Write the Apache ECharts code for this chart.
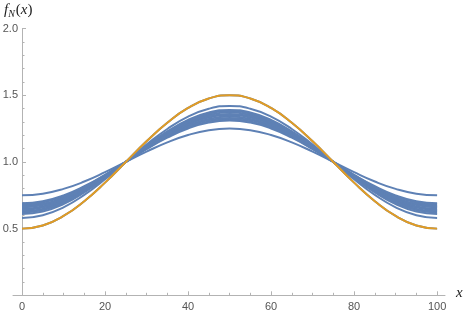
<!DOCTYPE html>
<html><head><meta charset="utf-8">
<script src="https://cdn.jsdelivr.net/npm/echarts@6/dist/echarts.min.js"></script>
<style>html,body{margin:0;padding:0;background:#fff}#c{width:469px;height:318px}</style>
</head><body><div id="c"></div>
<script>
const xValues = [0,5,10,15,20,25,30,35,40,45,50,55,60,65,70,75,80,85,90,95,100];
const curve025 = [0.75,0.762,0.798,0.853,0.923,1,1.077,1.147,1.202,1.238,1.25,1.238,1.202,1.147,1.077,1,0.923,0.853,0.798,0.762,0.75];
const curve031 = [0.69,0.705,0.749,0.818,0.904,1,1.096,1.182,1.251,1.295,1.31,1.295,1.251,1.182,1.096,1,0.904,0.818,0.749,0.705,0.69];
const curve032 = [0.68,0.696,0.741,0.812,0.901,1,1.099,1.188,1.259,1.304,1.32,1.304,1.259,1.188,1.099,1,0.901,0.812,0.741,0.696,0.68];
const curve033 = [0.67,0.686,0.733,0.806,0.898,1,1.102,1.194,1.267,1.314,1.33,1.314,1.267,1.194,1.102,1,0.898,0.806,0.733,0.686,0.67];
const curve034 = [0.66,0.677,0.725,0.8,0.895,1,1.105,1.2,1.275,1.323,1.34,1.323,1.275,1.2,1.105,1,0.895,0.8,0.725,0.677,0.66];
const curve035 = [0.65,0.667,0.717,0.794,0.892,1,1.108,1.206,1.283,1.333,1.35,1.333,1.283,1.206,1.108,1,0.892,0.794,0.717,0.667,0.65];
const curve036 = [0.64,0.658,0.709,0.788,0.889,1,1.111,1.212,1.291,1.342,1.36,1.342,1.291,1.212,1.111,1,0.889,0.788,0.709,0.658,0.64];
const curve037 = [0.63,0.648,0.701,0.782,0.886,1,1.114,1.218,1.299,1.352,1.37,1.352,1.299,1.218,1.114,1,0.886,0.782,0.701,0.648,0.63];
const curve038 = [0.62,0.639,0.693,0.777,0.883,1,1.117,1.223,1.307,1.361,1.38,1.361,1.307,1.223,1.117,1,0.883,0.777,0.693,0.639,0.62];
const curve039 = [0.61,0.629,0.684,0.771,0.879,1,1.121,1.229,1.316,1.371,1.39,1.371,1.316,1.229,1.121,1,0.879,0.771,0.684,0.629,0.61];
const curve042 = [0.58,0.601,0.66,0.753,0.87,1,1.13,1.247,1.34,1.399,1.42,1.399,1.34,1.247,1.13,1,0.87,0.753,0.66,0.601,0.58];
const curveLimit = [0.5,0.524,0.595,0.706,0.845,1,1.155,1.294,1.405,1.476,1.5,1.476,1.405,1.294,1.155,1,0.845,0.706,0.595,0.524,0.5];
const blueCurves = [curve025, curve031, curve032, curve033, curve034, curve035, curve036, curve037, curve038, curve039, curve042, curveLimit];
const xMajorTicks = [0,20,40,60,80,100];
const xMinorTicks = [5,10,15,25,30,35,45,50,55,65,70,75,85,90,95];

const BLUE = '#5E81B5', ORANGE = '#E19C24', AXIS = '#b3b3b3', LABEL = '#555';
const pairs = arr => xValues.map((x, i) => [x, arr[i]]);

const series = blueCurves.map(c => ({
  type: 'line', xAxisIndex: 0, data: pairs(c), smooth: true, showSymbol: false,
  lineStyle: { color: BLUE, width: 2 }, z: 2
}));
series.push({
  type: 'line', xAxisIndex: 0, data: pairs(curveLimit), smooth: true, showSymbol: false,
  lineStyle: { color: ORANGE, width: 2 }, z: 3
});

const chart = echarts.init(document.getElementById('c'), null, { renderer: 'canvas' });
chart.setOption({
  animation: false,
  grid: { left: 13, right: 24, top: 28.6, bottom: 22.7, containLabel: false, outerBoundsMode: 'none' },
  xAxis: [{
    type: 'value', min: -2.17, max: 101.9,
    axisLine: { lineStyle: { color: AXIS, width: 1 } },
    axisTick: { show: true, inside: true, length: 4, lineStyle: { color: AXIS }, customValues: xMajorTicks },
    axisLabel: { customValues: xMajorTicks, color: LABEL, fontSize: 11, fontFamily: 'Liberation Sans', margin: 6 },
    splitLine: { show: false }
  }, {
    type: 'value', min: -2.17, max: 101.9, position: 'bottom',
    axisLine: { show: false },
    axisTick: { show: true, inside: true, length: 2.5, lineStyle: { color: AXIS }, customValues: xMinorTicks },
    axisLabel: { show: false },
    splitLine: { show: false }
  }],
  yAxis: {
    type: 'value', min: 0, max: 2, interval: 0.5,
    axisLine: { show: true, onZero: true, lineStyle: { color: AXIS, width: 1 } },
    axisTick: { show: true, inside: true, length: 4, lineStyle: { color: AXIS } },
    minorTick: { show: true, splitNumber: 5, length: 2.5, lineStyle: { color: AXIS } },
    axisLabel: { color: LABEL, fontSize: 11, fontFamily: 'Liberation Sans', margin: -5,
      formatter: v => v === 0 ? '' : v.toFixed(1) },
    splitLine: { show: false }
  },
  series: series,
  graphic: [{
    type: 'text', left: 4, top: 3,
    style: {
      text: '{f|f}{n|N}{p|(}{x|x}{p|)}',
      rich: {
        f: { fontFamily: 'Liberation Serif', fontStyle: 'italic', fontSize: 15, fill: '#222' },
        n: { fontFamily: 'Liberation Serif', fontStyle: 'italic', fontSize: 10, fill: '#222', padding: [8, 1, 0, 0] },
        p: { fontFamily: 'Liberation Serif', fontSize: 15, fill: '#222' },
        x: { fontFamily: 'Liberation Serif', fontStyle: 'italic', fontSize: 15, fill: '#222' }
      }
    }
  }, {
    type: 'text', left: 456, top: 286,
    style: { text: 'x', fontFamily: 'Liberation Serif', fontStyle: 'italic', fontSize: 15, fill: '#222' }
  }]
});
</script></body></html>
